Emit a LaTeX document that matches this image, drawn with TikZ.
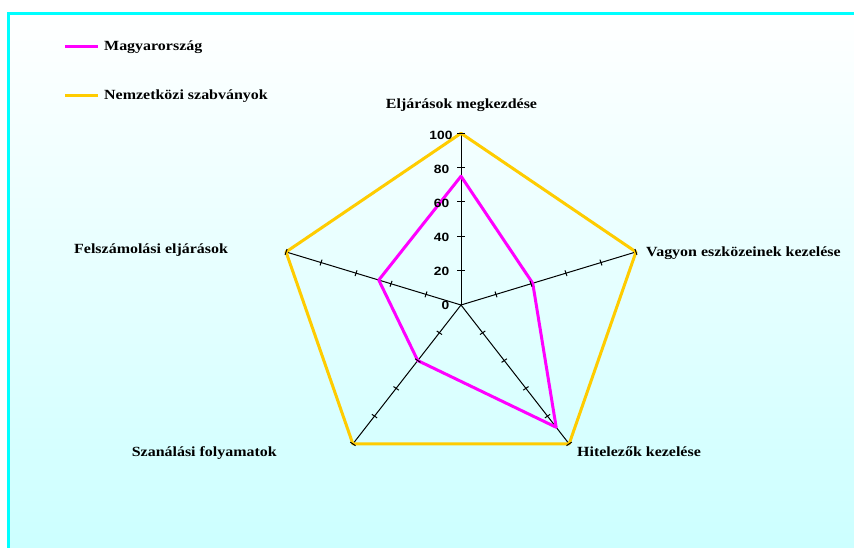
\documentclass[tikz,border=0pt]{standalone}
\usepackage{fontspec}
\setmainfont{Liberation Serif}
\newfontfamily\numfont{Liberation Sans}
\usepackage{graphicx}
\usetikzlibrary{calc}
\definecolor{magline}{RGB}{255,0,255}
\definecolor{goldline}{RGB}{255,204,0}
\definecolor{bgcyan}{RGB}{204,255,255}
\definecolor{framecyan}{RGB}{0,255,255}
\begin{document}
\begin{tikzpicture}[x=1pt,y=-1pt,
  catlbl/.style={inner sep=0pt, font=\fontsize{14}{16}\selectfont\bfseries, text=black},
  numlbl/.style={inner sep=0pt, font=\numfont\fontsize{12}{14}\selectfont\bfseries, text=black},
  axisline/.style={black, line width=1pt},
  tickmark/.style={black, line width=1pt},
  seriesA/.style={magline, line width=3pt, line join=round},
  seriesB/.style={goldline, line width=3pt, line join=round},
]
\useasboundingbox (0,0) rectangle (854,548);
\fill[white] (0,0) rectangle (854,548);
\shade[top color=white, bottom color=bgcyan] (8.5,14) rectangle (854,548);
\draw[framecyan, line width=3pt] (8.5,548) -- (8.5,14) -- (854,14);

% legend
\coordinate (lgA1) at (65,46.5);
\coordinate (lgA2) at (98,46.5);
\coordinate (lgB1) at (65,95.7);
\coordinate (lgB2) at (98,95.7);
\draw[seriesA, line cap=butt] (lgA1) -- (lgA2);
\draw[seriesB, line cap=butt] (lgB1) -- (lgB2);
\node[catlbl, anchor=base west] (legA) at (104,51) {\scalebox{1.14}[1]{Magyarország}};
\node[catlbl, anchor=base west] (legB) at (104,100) {\scalebox{1.14}[1]{Nemzetközi szabványok}};

\begin{scope}[shift={(461,305)}, xscale=1.082, yscale=-1.01]
  \coordinate (O) at (0,0);
  \coordinate (vA) at (90:170);
  \coordinate (vB) at (18:170);
  \coordinate (vC) at (-54:170);
  \coordinate (vD) at (-126:170);
  \coordinate (vE) at (162:170);
  \coordinate (mA) at (90:127.5);
  \coordinate (mB) at (18:69.7);
  \coordinate (mC) at (-54:149.6);
  \coordinate (mD) at (-126:68);
  \coordinate (mE) at (162:79.9);
  \foreach \v in {vA,vB,vC,vD,vE}
    \draw[axisline] (O) -- (\v);
  \draw[seriesB] (vA) -- (vB) -- (vC) -- (vD) -- (vE) -- cycle;
  \draw[seriesA] (mA) -- (mB) -- (mC) -- (mD) -- (mE) -- cycle;
  \foreach \k in {1,...,5}
    \draw[tickmark] (-3.7,34*\k) -- (3.7,34*\k);
  \foreach \a in {18,-54,-126,162}
    \foreach \k in {1,...,5}
      \draw[tickmark] ($(\a:34*\k)+(\a+90:3)$) -- ($(\a:34*\k)+(\a-90:3)$);
\end{scope}

% axis numbers
\node[numlbl] (n100) at (441,135) {\scalebox{1.15}[1]{100}};
\node[numlbl] (n80) at (441.5,169) {\scalebox{1.15}[1]{80}};
\node[numlbl] (n60) at (441.5,203) {\scalebox{1.15}[1]{60}};
\node[numlbl] (n40) at (441.5,237) {\scalebox{1.15}[1]{40}};
\node[numlbl] (n20) at (441.5,271) {\scalebox{1.15}[1]{20}};
\node[numlbl] (n0) at (445.5,305) {\scalebox{1.15}[1]{0}};

% category labels
\node[catlbl, anchor=base] (lA) at (461.5,109) {\scalebox{1.14}[1]{Eljárások megkezdése}};
\node[catlbl, anchor=base west] (lB) at (646,257) {\scalebox{1.14}[1]{Vagyon eszközeinek kezelése}};
\node[catlbl, anchor=base west] (lC) at (577,456) {\scalebox{1.14}[1]{Hitelezők kezelése}};
\node[catlbl, anchor=base east] (lD) at (277,456) {\scalebox{1.14}[1]{Szanálási folyamatok}};
\node[catlbl, anchor=base west] (lE) at (74,253) {\scalebox{1.14}[1]{Felszámolási eljárások}};
\end{tikzpicture}
\end{document}
